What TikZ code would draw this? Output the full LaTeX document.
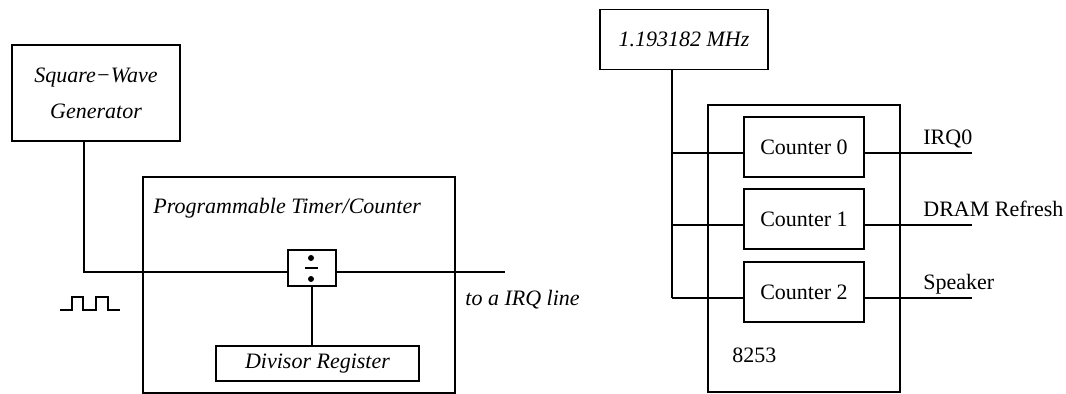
\documentclass[tikz,border=0pt]{standalone}
\usepackage{fontspec}
\setmainfont{Liberation Serif}
\usetikzlibrary{calc}
\tikzset{
    wire/.style={line width=0.6pt},
    blockbox/.style={draw,line width=0.6pt,inner sep=0pt},
    itlabel/.style={font=\itshape,inner sep=0pt},
    plainlabel/.style={inner sep=0pt},
    dotmark/.style={circle,fill=black,inner sep=0pt,minimum size=3pt}
}

\begin{document}
\fontsize{11}{18}\selectfont
\begin{tikzpicture}[x=0.5pt,y=-0.5pt]
    \useasboundingbox (0,0) rectangle (1066,394);
    % Generator
    \node[blockbox,font=\itshape,align=center,minimum width=84pt,minimum height=48pt] (gen) at (96,93) {Square−Wave\\Generator};
    % Timer/Counter
    \node[blockbox,minimum width=156pt,minimum height=108pt] (timer) at (299,285) {};
    \node[itlabel,anchor=west] (timerlab) at (153,208) {Programmable Timer/Counter};
    % Divider
    \node[blockbox,minimum width=24pt,minimum height=18pt] (div) at (312,268) {};
    \node[dotmark] (dotup) at (311,258) {};
    \node[dotmark] (dotdown) at (311,279) {};
    \draw[wire] (305,268) -- (318,268);
    \node[blockbox,font=\itshape,minimum width=101.5pt,minimum height=17.5pt] (divreg) at (317.5,363.5) {Divisor Register};
    % Input and output
    \coordinate (inlet) at (84,272);
    \coordinate (irqend) at (505,272);
    \draw[wire] (gen.south -| inlet) -- (inlet) -- (inlet -| div.west);
    \draw[wire] (irqend -| div.east) -- (irqend);
    \draw[wire] (div.south) -- (div.south |- divreg.north);
    \node[itlabel,anchor=west] (irqlab) at (465,300) {to a IRQ line};
    % Square wave
    \draw[wire] (60,310) -- (72,310) -- (72,297) -- (83,297) -- (83,310)
        -- (96,310) -- (96,297) -- (108,297) -- (108,310) -- (120,310);

    % Oscillator
    \node[blockbox,font=\itshape,minimum width=84pt,minimum height=30pt] (osc) at (684,39.5) {1.193182 MHz};
    % 8253
    \node[blockbox,minimum width=96pt,minimum height=143.5pt] (chip) at (804,248.5) {};
    \node[plainlabel,anchor=west] (chiplab) at (732,355) {8253};
    \coordinate (bus) at (672,297);
    \coordinate (outend) at (972,0);
    \foreach \i/\yy/\lab in {0/147/IRQ0, 1/219/DRAM Refresh, 2/292/Speaker} {
        \node[blockbox,minimum width=60pt,minimum height=30pt] (cnt\i) at (804,\yy) {Counter \i};
        \coordinate (in\i) at ($(cnt\i.west)+(0,6)$);
        \coordinate (out\i) at ($(cnt\i.east)+(0,6)$);
        \draw[wire] (in\i -| bus) -- (in\i);
        \draw[wire] (out\i) -- (out\i -| outend);
        \node[plainlabel,anchor=base west] (lab\i) at ($(out\i -| outend)+(-49,-8)$) {\lab};
    }
    \draw[wire] (osc.south -| bus) -- (in2 -| bus);
\end{tikzpicture}
\end{document}
